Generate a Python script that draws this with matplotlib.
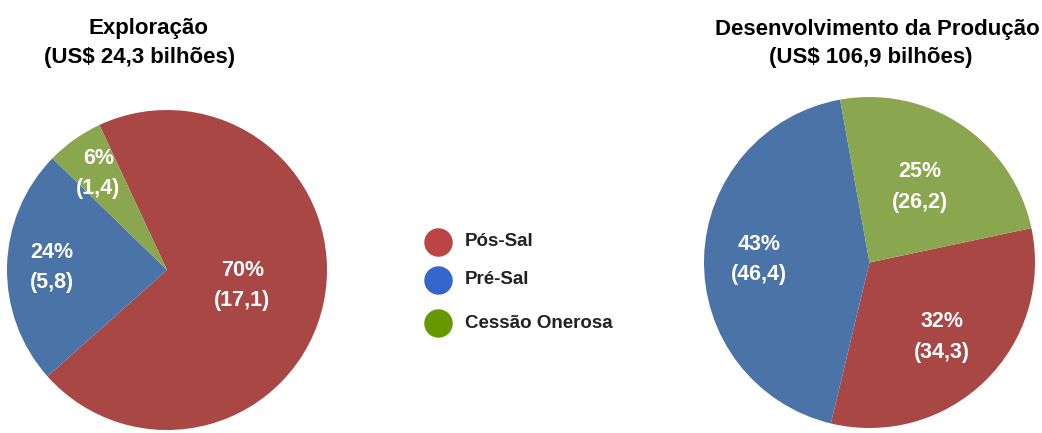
import numpy as np
import matplotlib.pyplot as plt

plt.rcParams['font.family'] = ['Liberation Sans', 'DejaVu Sans']

categorias = ['Pós-Sal', 'Pré-Sal', 'Cessão Onerosa']
exploracao = [17.1, 5.8, 1.4]
desenvolvimento = [34.3, 46.4, 26.2]
pct_exploracao = ['70%', '24%', '6%']
pct_desenvolvimento = ['32%', '43%', '25%']
titulo_exp = ['Exploração', '(US$ 24,3 bilhões)']
titulo_dev = ['Desenvolvimento da Produção', '(US$ 106,9 bilhões)']

cores = ['#A94744', '#4A73A8', '#8AA64F']
cores_legenda = ['#BB4444', '#3366CC', '#669900']

W, H = 1042, 433
fig = plt.figure(figsize=(W / 100, H / 100), dpi=100)


def px_axes(x0, y0, w, h):
    # coordenadas em pixels (origem no topo)
    return fig.add_axes([x0 / W, 1 - (y0 + h) / H, w / W, h / H])


def plot_pizza(ax, valores, pcts, inicio, dists):
    wedges, _ = ax.pie(valores, colors=cores, startangle=inicio, counterclock=False,
                       radius=1, wedgeprops=dict(linewidth=0))
    for w, v, p, d in zip(wedges, valores, pcts, dists):
        ang = np.deg2rad((w.theta1 + w.theta2) / 2)
        x, y = d * np.cos(ang), d * np.sin(ang)
        txt = '%s\n(%s)' % (p, ('%.1f' % v).replace('.', ','))
        ax.text(x, y, txt, ha='center', va='center', color='white',
                fontsize=15.5, fontweight='bold', linespacing=1.6)
    ax.set_xlim(-1, 1)
    ax.set_ylim(-1, 1)
    ax.set_aspect('equal')
    ax.axis('off')


ax1 = px_axes(7, 110, 320, 320)
plot_pizza(ax1, exploracao, pct_exploracao, 115, [0.48, 0.72, 0.74])

ax2 = px_axes(704, 97, 331, 331)
plot_pizza(ax2, desenvolvimento, pct_desenvolvimento, 12, [0.63, 0.67, 0.55])

# titulos (linha de base em pixels)
tit = dict(va='baseline', ha='center', fontsize=16, fontweight='bold')
fig.text(148 / W, 1 - 34 / H, titulo_exp[0], **tit)
fig.text(140 / W, 1 - 63 / H, titulo_exp[1], **tit)
fig.text(877 / W, 1 - 35 / H, titulo_dev[0], **tit)
fig.text(871 / W, 1 - 63 / H, titulo_dev[1], **tit)

# legenda
axl = px_axes(420, 222, 220, 120)
axl.set_xlim(0, 220)
axl.set_ylim(120, 0)
axl.axis('off')
ys = [20, 58, 101]
for cat, c, y in zip(categorias, cores_legenda, ys):
    axl.scatter(18, y, s=420, color=c, marker='o', linewidths=0)
    axl.text(45, y, cat, ha='left', va='center', fontsize=13.5, fontweight='bold', color='#222222')

fig.savefig('out.png', dpi=100)
